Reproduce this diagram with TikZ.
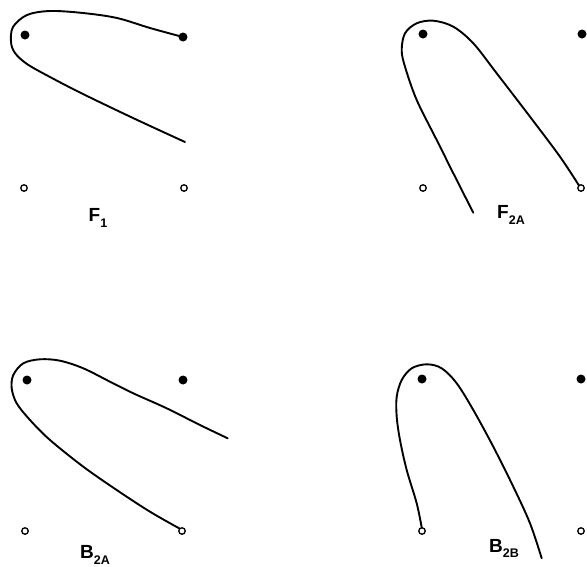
\documentclass[tikz,border=0pt]{standalone}
\usepackage{fontspec}
\setmainfont{Liberation Sans}
\begin{document}
\begin{tikzpicture}[x=1pt,y=-1pt,
  fdot/.style={circle,fill=black,inner sep=0pt,minimum size=9pt},
  odot/.style={circle,draw=black,line width=1.3pt,fill=white,inner sep=0pt,minimum size=6.5pt},
  path/.style={line width=1.9pt,line cap=round,line join=round},
  lab/.style={inner sep=0pt,font=\fontsize{19}{19}\selectfont\bfseries}]
\useasboundingbox (0,0) rectangle (587,566);
\newcommand{\sublab}[2]{#1\raisebox{-0.3em}{\fontsize{12.5}{12.5}\selectfont\bfseries #2}}
% Panel F1
\node[fdot] (a1) at (25,35) {};
\node[fdot] (a2) at (183,37) {};
\node[odot] (a3) at (24,188) {};
\node[odot] (a4) at (184,188) {};
\node[lab] (la) at (98,218) {\sublab{F}{1}};
\draw[path] plot[smooth,tension=0.55] coordinates {(185,142) (133,118) (83,94) (50,77) (27,64) (15,53) (11,42) (13,27) (27,15) (50,11) (83,13) (117,18) (150,28) (183,37)};
% Panel F2A
\node[fdot] (b1) at (423,34) {};
\node[fdot] (b2) at (582,34) {};
\node[odot] (b3) at (423,188) {};
\node[odot] (b4) at (581,188) {};
\node[lab] (lb) at (511,215) {\sublab{F}{2A}};
\draw[path] plot[smooth,tension=0.55] coordinates {(473.3,212.7) (456.7,180) (436.7,140) (416.7,100) (405,66.7) (401.7,50) (405,33.3) (416.7,23.3) (433.3,20.7) (453.3,26.7) (473.3,43.3) (496.7,73.3) (530,116.7) (560,156.7) (579,185.5)};
% Panel B2A
\node[fdot] (c1) at (27,380) {};
\node[fdot] (c2) at (183,380) {};
\node[odot] (c3) at (25,531) {};
\node[odot] (c4) at (182,531) {};
\node[lab] (lc) at (95,555) {\sublab{B}{2A}};
\draw[path] plot[smooth,tension=0.55] coordinates {(227.7,438.3) (200,425) (166.7,408.3) (133.3,393.3) (110,381.7) (83.3,368.3) (60,360.7) (40,359.3) (23.3,363.3) (13.3,375) (11.7,388.3) (16.7,403.3) (30,420) (50,440) (83.3,466.7) (116.7,490) (150,511.7) (179.5,528.5)};
% Panel B2B
\node[fdot] (d1) at (422,379) {};
\node[fdot] (d2) at (581,379) {};
\node[odot] (d3) at (422,531) {};
\node[odot] (d4) at (581,531) {};
\node[lab] (ld) at (504,548.5) {\sublab{B}{2B}};
\draw[path] plot[smooth,tension=0.55] coordinates {(421.7,527.5) (416.7,503.3) (406.7,470) (400,440) (396.7,416.7) (396.7,396.7) (401.7,380) (411.7,368.3) (426.7,364.3) (441.7,368.3) (456.7,383.3) (473.3,410) (493.3,446.7) (513.3,486.7) (530,523.3) (541.7,558.3)};
\end{tikzpicture}
\end{document}
